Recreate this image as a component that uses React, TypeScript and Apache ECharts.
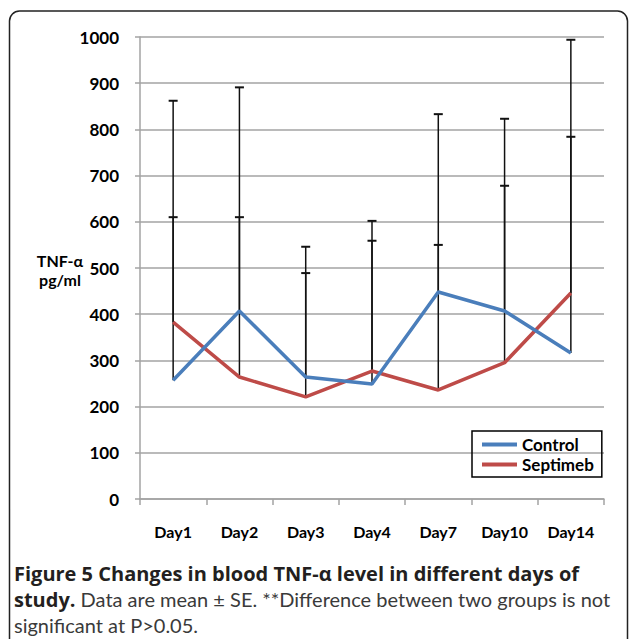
import React, { useEffect, useRef } from 'react';
import * as echarts from 'echarts';

const days = ['Day1', 'Day2', 'Day3', 'Day4', 'Day7', 'Day10', 'Day14'];
const control = [257, 407, 264, 249, 448, 407, 316];
const septimeb = [383, 264, 221, 277, 236, 295, 446];
const controlUpper = [862, 891, 546, 602, 833, 823, 784];
const septimebUpper = [610, 610, 489, 559, 550, 678, 994];
const yMin = 0;
const yMax = 1000;
const yStep = 100;

const captionLine1 = 'Figure 5 Changes in blood TNF-α level in different days of';
const captionBold2 = 'study.';
const captionRest2 = ' Data are mean ± SE. **Difference between two groups is not';
const captionLine3 = 'significant at P>0.05.';

export default function App() {
  const ref = useRef<HTMLDivElement>(null);
  useEffect(() => {
    const chart = echarts.init(ref.current!, null, { renderer: 'svg' });
    const errData: number[][] = [];
    control.forEach((m, i) => errData.push([i, m, controlUpper[i]]));
    septimeb.forEach((m, i) => errData.push([i, m, septimebUpper[i]]));
    const gridColor = '#a3a3a3';
    const font = 'Lato';
    const capFont = "'Open Sans'";
    chart.setOption({
      animation: false,
      grid: { left: 140, top: 37, right: 25, bottom: 140 },
      xAxis: {
        type: 'category',
        data: days,
        boundaryGap: true,
        axisLine: { show: true, lineStyle: { color: gridColor, width: 1.5 } },
        axisTick: { show: true, length: 6, alignWithLabel: false, lineStyle: { color: gridColor, width: 1.5 } },
        axisLabel: { margin: 24, fontWeight: 'bold', fontSize: 16, color: '#000', fontFamily: font },
        splitLine: { show: false },
      },
      yAxis: {
        type: 'value',
        min: yMin,
        max: yMax,
        interval: yStep,
        axisLine: { show: true, lineStyle: { color: gridColor, width: 1.5 } },
        axisTick: { show: true, length: 5, lineStyle: { color: gridColor, width: 1.5 } },
        splitLine: { show: true, lineStyle: { color: gridColor, width: 1.5 } },
        axisLabel: {
          margin: 21,
          fontWeight: 'bold',
          fontSize: 17,
          color: '#000',
          fontFamily: font,
          formatter: (v: number) => String(v),
        },
      },
      legend: {
        left: 472,
        top: 431,
        orient: 'vertical',
        borderColor: '#000',
        borderWidth: 1.5,
        padding: [5, 8, 4, 10],
        itemWidth: 35,
        itemHeight: 4,
        itemGap: 3,
        icon: 'rect',
        data: ['Control', 'Septimeb'],
        textStyle: { fontWeight: 'bold', fontSize: 17, fontFamily: font, color: '#000' },
      },
      series: [
        {
          type: 'custom',
          name: 'SE',
          z: 1,
          data: errData,
          encode: { x: 0, y: [1, 2] },
          renderItem: (params: any, api: any) => {
            const i = api.value(0);
            const lo = api.coord([i, api.value(1)]);
            const hi = api.coord([i, api.value(2)]);
            return {
              type: 'group',
              children: [
                { type: 'line', shape: { x1: lo[0], y1: lo[1], x2: hi[0], y2: hi[1] }, style: { stroke: '#111', lineWidth: 1.5 } },
                { type: 'line', shape: { x1: hi[0] - 4.5, y1: hi[1], x2: hi[0] + 4.5, y2: hi[1] }, style: { stroke: '#111', lineWidth: 2 } },
              ],
            };
          },
        },
        {
          type: 'line',
          name: 'Control',
          data: control,
          z: 3,
          symbol: 'none',
          color: '#4a7ebb',
          lineStyle: { color: '#4a7ebb', width: 3.5 },
        },
        {
          type: 'line',
          name: 'Septimeb',
          data: septimeb,
          z: 2,
          symbol: 'none',
          color: '#be4b48',
          lineStyle: { color: '#be4b48', width: 3.5 },
        },
      ],
      graphic: [
        {
          type: 'rect',
          shape: { x: 9.5, y: 11, width: 618, height: 640, r: 10 },
          style: { fill: 'none', stroke: '#222', lineWidth: 1.5 },
          silent: true,
        },
        {
          type: 'text',
          x: 60,
          y: 251,
          style: {
            text: 'TNF-α\npg/ml',
            font: `bold 16px ${font}`,
            lineHeight: 19,
            textAlign: 'center',
            textVerticalAlign: 'top',
            fill: '#000',
          },
        },
        {
          type: 'text',
          x: 14,
          y: 573,
          style: {
            text: captionLine1,
            font: `bold 20px ${capFont}`,
            textAlign: 'left',
            textVerticalAlign: 'middle',
            fill: '#231f20',
          },
        },
        {
          type: 'text',
          x: 14,
          y: 599,
          style: {
            text: `{b|${captionBold2}}{n|${captionRest2}}`,
            textAlign: 'left',
            textVerticalAlign: 'middle',
            rich: {
              b: { font: `bold 20px ${capFont}`, fill: '#231f20' },
              n: { font: `normal 20px ${font}`, fill: '#3a3a3a' },
            },
          },
        },
        {
          type: 'text',
          x: 14,
          y: 625,
          style: {
            text: captionLine3,
            font: `normal 20px ${font}`,
            textAlign: 'left',
            textVerticalAlign: 'middle',
            fill: '#3a3a3a',
          },
        },
      ],
    });
    return () => chart.dispose();
  }, []);
  return <div ref={ref} style={{ position: 'absolute', left: 0, top: 0, width: 629, height: 639, background: '#fff' }} />;
}
